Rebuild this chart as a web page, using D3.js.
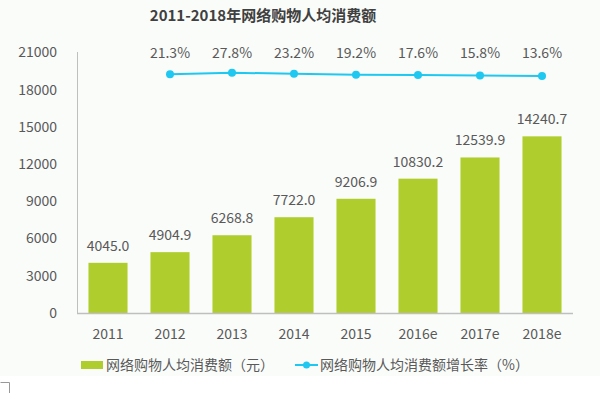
<!DOCTYPE html>
<html>
<head>
<meta charset="utf-8">
<script src="https://cdn.jsdelivr.net/npm/d3@7"></script>
<style>
  html, body { margin: 0; padding: 0; background: #fff; }
  text { font-family: "Noto Sans CJK SC", "Noto Sans", sans-serif; fill: #595959; }
</style>
</head>
<body>
<div id="chart"></div>
<script>
const years = ['2011', '2012', '2013', '2014', '2015', '2016e', '2017e', '2018e'];
const spend = [4045.0, 4904.9, 6268.8, 7722.0, 9206.9, 10830.2, 12539.9, 14240.7];
const growthYears = ['2012', '2013', '2014', '2015', '2016e', '2017e', '2018e'];
const growth = [21.3, 27.8, 23.2, 19.2, 17.6, 15.8, 13.6];
const yTicks = [0, 3000, 6000, 9000, 12000, 15000, 18000, 21000];
const title = '2011-2018年网络购物人均消费额';
const legendLabels = ['网络购物人均消费额（元）', '网络购物人均消费额增长率（%）'];

const width = 600, height = 393;
const margin = {top: 52, right: 27, bottom: 80, left: 77};
const green = '#b0cd2e', cyan = '#1ec8f0';

const svg = d3.select('#chart').append('svg')
  .attr('width', width).attr('height', height);

svg.append('rect').attr('width', width).attr('height', 376).attr('fill', '#fafcf9');
svg.append('path').attr('d', 'M0.5,382.5H9.5V393').attr('fill', 'none').attr('stroke', '#999');

const x = d3.scaleBand().domain(years)
  .range([margin.left, width - margin.right]).paddingInner(0.37).paddingOuter(0.185);
const y = d3.scaleLinear().domain([0, 21000]).range([height - margin.bottom, margin.top + 0.5]);
const y2 = d3.scaleLinear().domain([0, 30]).range([79.2, 72.2]);

svg.append('text').attr('x', 263).attr('y', 21).attr('text-anchor', 'middle')
  .style('font-size', '15px').style('font-weight', 'bold').style('fill', '#404040')
  .text(title);

// y axis
svg.append('g').attr('class', 'ytick').selectAll('text').data(yTicks).join('text')
  .attr('x', 57).attr('y', d => y(d)).attr('dy', '0.35em').attr('text-anchor', 'end')
  .style('font-size', '14px').text(d => d);

svg.append('line').attr('x1', margin.left + 0.5).attr('x2', margin.left + 0.5)
  .attr('y1', margin.top).attr('y2', y(0)).attr('stroke', '#bfbfbf');

// bars
svg.append('g').selectAll('rect').data(spend).join('rect')
  .attr('x', (d, i) => x(years[i])).attr('width', x.bandwidth())
  .attr('y', d => y(d)).attr('height', d => y(0) - y(d))
  .attr('fill', green);

svg.append('g').selectAll('text').data(spend).join('text')
  .attr('x', (d, i) => x(years[i]) + x.bandwidth() / 2).attr('y', d => y(d) - 12)
  .attr('text-anchor', 'middle').style('font-size', '14px')
  .text(d => d.toFixed(1));

svg.append('line').attr('x1', margin.left).attr('x2', width - margin.right)
  .attr('y1', y(0) + 0.5).attr('y2', y(0) + 0.5).attr('stroke', '#bfbfbf').attr('stroke-width', 1.5);

svg.append('g').selectAll('text').data(years).join('text')
  .attr('x', d => x(d) + x.bandwidth() / 2).attr('y', 334).attr('dy', '0.35em')
  .attr('text-anchor', 'middle').style('font-size', '14px').text(d => d);

// growth line
const cx = d => x(d) + x.bandwidth() / 2;
svg.append('path').datum(growth)
  .attr('d', d3.line().x((d, i) => cx(growthYears[i])).y(d => y2(d)))
  .attr('fill', 'none').attr('stroke', cyan).attr('stroke-width', 2);

svg.append('g').selectAll('circle').data(growth).join('circle')
  .attr('cx', (d, i) => cx(growthYears[i])).attr('cy', d => y2(d)).attr('r', 4)
  .attr('fill', cyan);

svg.append('g').selectAll('text').data(growth).join('text')
  .attr('x', (d, i) => cx(growthYears[i])).attr('y', 53).attr('dy', '0.35em')
  .attr('text-anchor', 'middle').style('font-size', '14px')
  .text(d => d.toFixed(1) + '%');

// legend
const leg = svg.append('g').attr('transform', 'translate(0, 365)');
leg.append('rect').attr('x', 81).attr('y', -4).attr('width', 22).attr('height', 8).attr('fill', green);
leg.append('text').attr('x', 106).attr('dy', '0.35em').style('font-size', '14px').text(legendLabels[0]);
leg.append('line').attr('x1', 295).attr('x2', 318).attr('stroke', cyan).attr('stroke-width', 2);
leg.append('circle').attr('cx', 306.5).attr('r', 3.5).attr('fill', cyan);
leg.append('text').attr('x', 320).attr('dy', '0.35em').style('font-size', '14px').text(legendLabels[1]);
</script>
</body>
</html>
